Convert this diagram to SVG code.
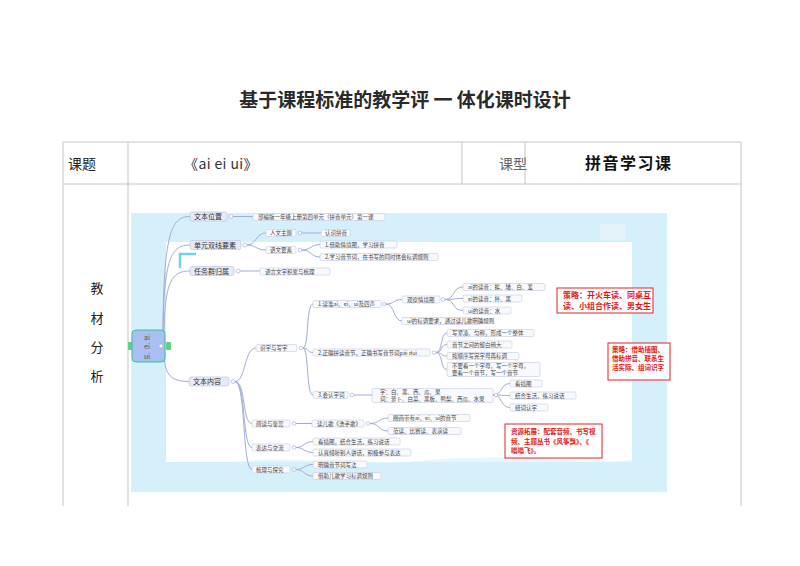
<svg xmlns="http://www.w3.org/2000/svg" width="800" height="566" viewBox="0 0 800 566">
<style>
.cjk{font-family:"Noto Sans CJK SC","Liberation Sans",sans-serif}
.tl{stroke:#c4c4c4;stroke-width:1;fill:none}
.c{stroke:#9fadd6;stroke-width:1;fill:none}
.n1 rect{fill:#e6eaf5;stroke:#b9c1dc;stroke-width:.6}
.n2 rect{fill:#f8f9fd;stroke:#c5cadf;stroke-width:.6}
.n1 text{font-size:7px;fill:#333}
.n2 text{font-size:5.5px;fill:#444}
.d{fill:#fff;stroke:#9aa6cc;stroke-width:.6}
.r rect{fill:#fff;stroke:#e02525;stroke-width:1}
.r text{fill:#e01818;font-weight:bold}
</style>
<rect width="800" height="566" fill="#fff"/>
<text class="cjk" x="405" y="107" font-size="19" font-weight="bold" text-anchor="middle" fill="#2a2a2a">基于课程标准的教学评 一 体化课时设计</text>
<g id="table">
<line class="tl" x1="63" y1="142" x2="741" y2="142"/>
<line class="tl" x1="63" y1="184" x2="741" y2="184"/>
<line class="tl" x1="63" y1="142" x2="63" y2="506"/>
<line class="tl" x1="128" y1="142" x2="128" y2="506"/>
<line class="tl" x1="462" y1="142" x2="462" y2="184"/>
<line class="tl" x1="525" y1="142" x2="525" y2="184"/>
<line class="tl" x1="741" y1="142" x2="741" y2="506"/>
<text class="cjk" x="68" y="169" font-size="14" fill="#222">课题</text>
<text class="cjk" x="184" y="169" font-size="14" letter-spacing="0.4" fill="#333">《ai ei ui》</text>
<text class="cjk" x="499" y="169" font-size="14" fill="#666">课型</text>
<text class="cjk" x="585" y="169" font-size="16" font-weight="bold" letter-spacing="1.5" fill="#111">拼音学习课</text>
<g class="cjk" font-size="13" fill="#222" text-anchor="middle">
<text x="97" y="293">教</text>
<text x="97" y="323">材</text>
<text x="97" y="352">分</text>
<text x="97" y="381">析</text>
</g>
</g>
<g id="background">
<rect x="131" y="213" width="536" height="279" fill="#d6f0fb"/>
<path d="M166,242 H632 V462 H166 Z" fill="#fff"/>
<path d="M230,462 C300,455 360,468 430,460 C520,452 580,466 632,460 V462 H230 Z" fill="#e6f6fc"/>
<rect x="600" y="224" width="26" height="16" fill="#e4f3fa"/>
<path d="M180,268 V254 H196" stroke="#72d3e6" stroke-width="2.5" fill="none"/>
</g>
<g id="connectors">
<path class="c" d="M163,340 C163,230 172,216.5 190,216.5"/>
<path class="c" d="M163,340 C163,256 172,245 190,245"/>
<path class="c" d="M164,340 C164,280 172,271 190,271"/>
<path class="c" d="M164,352 C164,376 172,381.5 189,381.5"/>
<path class="c" d="M233,216.5 H253"/>
<path class="c" d="M247,245 C256,245 256,233 266,233"/>
<path class="c" d="M247,245 C256,245 256,250 266,250"/>
<path class="c" d="M302,233 H321"/>
<path class="c" d="M302,250 C311,250 311,244.5 320,244.5"/>
<path class="c" d="M302,250 C311,250 311,257 320,257"/>
<path class="c" d="M240,271 H260"/>
<path class="c" d="M235,381.5 C246,381.5 244,348 256,348"/>
<path class="c" d="M235,381.5 C246,381.5 242,423.5 252,423.5"/>
<path class="c" d="M235,381.5 C246,381.5 242,447.5 252,447.5"/>
<path class="c" d="M235,381.5 C246,381.5 242,469.5 252,469.5"/>
<path class="c" d="M303,348 C309,348 306,304 313,304"/>
<path class="c" d="M303,348 C309,348 307,352.5 313,352.5"/>
<path class="c" d="M303,348 C309,348 306,395 313,395"/>
<path class="c" d="M386,304 C395,304 393,299.5 402,299.5"/>
<path class="c" d="M386,304 C395,304 393,321 402,321"/>
<path class="c" d="M445,299.5 C455,299.5 452,287 463,287"/>
<path class="c" d="M445,299.5 C455,299.5 452,298.5 463,298.5"/>
<path class="c" d="M445,299.5 C455,299.5 452,310.5 463,310.5"/>
<path class="c" d="M436,352.5 C443,352.5 440,333 447,333"/>
<path class="c" d="M436,352.5 C443,352.5 440,344.5 447,344.5"/>
<path class="c" d="M436,352.5 C443,352.5 440,356 447,356"/>
<path class="c" d="M436,352.5 C443,352.5 440,369.5 447,369.5"/>
<path class="c" d="M354,395 H372"/>
<path class="c" d="M493,395 C503,395 500,383.5 510,383.5"/>
<path class="c" d="M493,395 C503,395 500,395.5 510,395.5"/>
<path class="c" d="M493,395 C503,395 500,407.5 510,407.5"/>
<path class="c" d="M296,423.5 H312"/>
<path class="c" d="M370,423.5 C380,423.5 378,418 388,418"/>
<path class="c" d="M370,423.5 C380,423.5 378,431 388,431"/>
<path class="c" d="M296,447.5 C304,447.5 304,441.5 313,441.5"/>
<path class="c" d="M296,447.5 C304,447.5 304,452.5 313,452.5"/>
<path class="c" d="M296,469.5 C304,469.5 304,464.5 313,464.5"/>
<path class="c" d="M296,469.5 C304,469.5 304,476 313,476"/>
</g>
<g id="root" class="cjk">
<rect x="128" y="342" width="4" height="8" fill="#5fcf8a"/>
<rect x="166" y="342" width="5" height="8" rx="1" fill="#5fcf8a"/>
<rect x="132" y="330" width="33" height="32" rx="4" fill="#a9bff4" stroke="#3dbf9e" stroke-width="1"/>
<g font-size="7" fill="#555" text-anchor="middle"><text x="147" y="339.5">ai</text><text x="147" y="349">ei</text><text x="147" y="358.5">ui</text></g>
<circle cx="161" cy="346" r="2" class="d"/>
</g>
<g id="n-wbwz" class="n1 cjk"><rect x="190" y="212" width="37" height="9" rx="2"/><text x="194" y="219">文本位置</text><circle class="d" cx="231" cy="216.5" r="2"/></g>
<g id="n-dyys" class="n1 cjk"><rect x="190" y="240.5" width="51" height="9" rx="2"/><text x="194" y="247.5">单元双线要素</text><circle class="d" cx="245" cy="245" r="2"/></g>
<g id="n-rwq" class="n1 cjk"><rect x="190" y="266.5" width="44" height="9" rx="2"/><text x="194" y="273.5">任务群归属</text><circle class="d" cx="238" cy="271" r="2"/></g>
<g id="n-wbnr" class="n1 cjk"><rect x="189" y="377" width="40" height="9" rx="2"/><text x="193" y="384">文本内容</text><circle class="d" cx="233" cy="381.5" r="2"/></g>
<g id="n-bbb" class="n2 cjk"><rect x="253" y="213.5" width="132" height="7" rx="1.5"/><text x="258" y="219">部编版一年级上册第四单元（拼音单元）第一课</text></g>
<g id="n-rwzt" class="n2 cjk"><rect x="266" y="229.5" width="30" height="7" rx="1.5"/><text x="270" y="235">人文主题</text><circle class="d" cx="300" cy="233" r="1.8"/></g>
<g id="n-rspy" class="n2 cjk"><rect x="321" y="229.5" width="29" height="7" rx="1.5"/><text x="325" y="235">认识拼音</text></g>
<g id="n-ywys" class="n2 cjk"><rect x="266" y="246.5" width="30" height="7" rx="1.5"/><text x="270" y="252">语文要素</text><circle class="d" cx="300" cy="250" r="1.8"/></g>
<g id="n-jz" class="n2 cjk"><rect x="320" y="241" width="77" height="7" rx="1.5"/><text x="325" y="246.5">1.借助情境图，学习拼音</text></g>
<g id="n-xx" class="n2 cjk"><rect x="320" y="253.5" width="118" height="7" rx="1.5"/><text x="325" y="259">2.学习音节词，在书写的同时体会标调规则</text></g>
<g id="n-yyjl" class="n2 cjk"><rect x="260" y="268" width="70" height="7" rx="1.5"/><text x="265" y="273.5">语言文字积累与梳理</text></g>
<g id="n-szxz" class="n2 cjk"><rect x="256" y="344.5" width="41" height="7" rx="1.5"/><text x="260" y="350">识字与写字</text><circle class="d" cx="301" cy="348" r="1.8"/></g>
<g id="n-ydjs" class="n2 cjk"><rect x="252" y="420" width="38" height="7" rx="1.5"/><text x="256" y="425.5">阅读与鉴赏</text><circle class="d" cx="294" cy="423.5" r="1.8"/></g>
<g id="n-bdjl" class="n2 cjk"><rect x="252" y="444" width="38" height="7" rx="1.5"/><text x="256" y="449.5">表达与交流</text><circle class="d" cx="294" cy="447.5" r="1.8"/></g>
<g id="n-sltj" class="n2 cjk"><rect x="252" y="466" width="38" height="7" rx="1.5"/><text x="256" y="471.5">梳理与探究</text><circle class="d" cx="294" cy="469.5" r="1.8"/></g>
<g id="n-dz" class="n2 cjk"><rect x="313" y="300.5" width="68" height="7" rx="1.5"/><text x="318" y="306">1.读准ai、ei、ui及四声</text><circle class="d" cx="384" cy="304" r="1.8"/></g>
<g id="n-zqpd" class="n2 cjk"><rect x="313" y="349" width="117" height="7" rx="1.5"/><text x="318" y="354.5">2.正确拼读音节，正确书写音节词pài duì</text><circle class="d" cx="434" cy="352.5" r="1.8"/></g>
<g id="n-hrzc" class="n2 cjk"><rect x="313" y="391.5" width="35" height="7" rx="1.5"/><text x="318" y="397">3.会认字词</text><circle class="d" cx="352" cy="395" r="1.8"/></g>
<g id="n-gcqjt" class="n2 cjk"><rect x="402" y="296" width="38" height="7" rx="1.5"/><text x="407" y="301.5">观察情境图</text><circle class="d" cx="443" cy="299.5" r="1.8"/></g>
<g id="n-uibd" class="n2 cjk"><rect x="402" y="317.5" width="80" height="7" rx="1.5"/><text x="407" y="323">ui的标调要求，通过读儿歌明确规则</text></g>
<g id="n-ai" class="n2 cjk"><rect x="463" y="283.5" width="82" height="7" rx="1.5"/><text x="468" y="289">ai的读音：挨、矮、白、爱</text></g>
<g id="n-ei" class="n2 cjk"><rect x="463" y="295" width="59" height="7" rx="1.5"/><text x="468" y="300.5">ei的读音：杯、黑</text></g>
<g id="n-ui" class="n2 cjk"><rect x="463" y="307" width="48" height="7" rx="1.5"/><text x="468" y="312.5">ui的读音：水</text></g>
<g id="n-xjc" class="n2 cjk"><rect x="447" y="329.5" width="87" height="7" rx="1.5"/><text x="452" y="335">写紧凑、匀称，形成一个整体</text></g>
<g id="n-yjzj" class="n2 cjk"><rect x="447" y="341" width="65" height="7" rx="1.5"/><text x="452" y="346.5">音节之间的留白稍大</text></g>
<g id="n-asx" class="n2 cjk"><rect x="447" y="352.5" width="72" height="7" rx="1.5"/><text x="452" y="358">按顺序写完字母再标调</text></g>
<g id="n-byk" class="n2 cjk"><rect x="447" y="362.5" width="93" height="14" rx="1.5"/><text x="452" y="368">不要看一个字母，写一个字母，</text><text x="452" y="375">要看一个音节，写一个音节</text></g>
<g id="n-zc" class="n2 cjk"><rect x="372" y="388.5" width="121" height="14" rx="1.5"/><text x="380" y="394">字：白、黑、西、瓜、果</text><text x="380" y="401">词：萝卜、白菜、黑板、鸭梨、西瓜、水果</text><circle class="d" cx="496" cy="395" r="1.8"/></g>
<g id="n-kct" class="n2 cjk"><rect x="510" y="380" width="32" height="7" rx="1.5"/><text x="515" y="385.5">看插图</text></g>
<g id="n-jhsh" class="n2 cjk"><rect x="510" y="392" width="66" height="7" rx="1.5"/><text x="515" y="397.5">结合生活，练习说话</text></g>
<g id="n-zcrz" class="n2 cjk"><rect x="510" y="404" width="38" height="7" rx="1.5"/><text x="515" y="409.5">组词认字</text></g>
<g id="n-deg" class="n2 cjk"><rect x="312" y="420" width="52" height="7" rx="1.5"/><text x="317" y="425.5">读儿歌《洗手歌》</text><circle class="d" cx="368" cy="423.5" r="1.8"/></g>
<g id="n-qh" class="n2 cjk"><rect x="388" y="414.5" width="82" height="7" rx="1.5"/><text x="393" y="420">圈画带有ai、ei、ui的音节</text></g>
<g id="n-fd" class="n2 cjk"><rect x="388" y="427.5" width="73" height="7" rx="1.5"/><text x="393" y="433">范读、比赛读、表演读</text></g>
<g id="n-kct2" class="n2 cjk"><rect x="313" y="438" width="87" height="7" rx="1.5"/><text x="318" y="443.5">看插图，结合生活，练习说话</text></g>
<g id="n-rzqt" class="n2 cjk"><rect x="313" y="449" width="98" height="7" rx="1.5"/><text x="318" y="454.5">认真倾听别人讲话，积极参与表达</text></g>
<g id="n-mq" class="n2 cjk"><rect x="313" y="461" width="54" height="7" rx="1.5"/><text x="318" y="466.5">明确音节词写法</text></g>
<g id="n-jzeg" class="n2 cjk"><rect x="313" y="472.5" width="68" height="7" rx="1.5"/><text x="318" y="478">借助儿歌学习标调规则</text></g>
<g id="r1" class="r cjk"><rect x="557" y="288" width="96" height="25"/><text x="563" y="298" font-size="8">策略：开火车读、同桌互</text><text x="563" y="309" font-size="8">读、小组合作读、男女生</text></g>
<g id="r2" class="r cjk"><rect x="608" y="343" width="62" height="37"/><text x="612" y="352" font-size="6.5">策略：借助插图、</text><text x="612" y="361" font-size="6.5">借助拼音、联系生</text><text x="612" y="370" font-size="6.5">活实际、组词识字</text></g>
<g id="r3" class="r cjk"><rect x="505" y="424" width="97" height="34"/><text x="511" y="434" font-size="6.5">资源拓展：配套音频、书写视</text><text x="511" y="443.5" font-size="6.5">频、主题丛书《风筝飘》、《</text><text x="511" y="453" font-size="6.5">嗡嗡飞》。</text></g>
</svg>
